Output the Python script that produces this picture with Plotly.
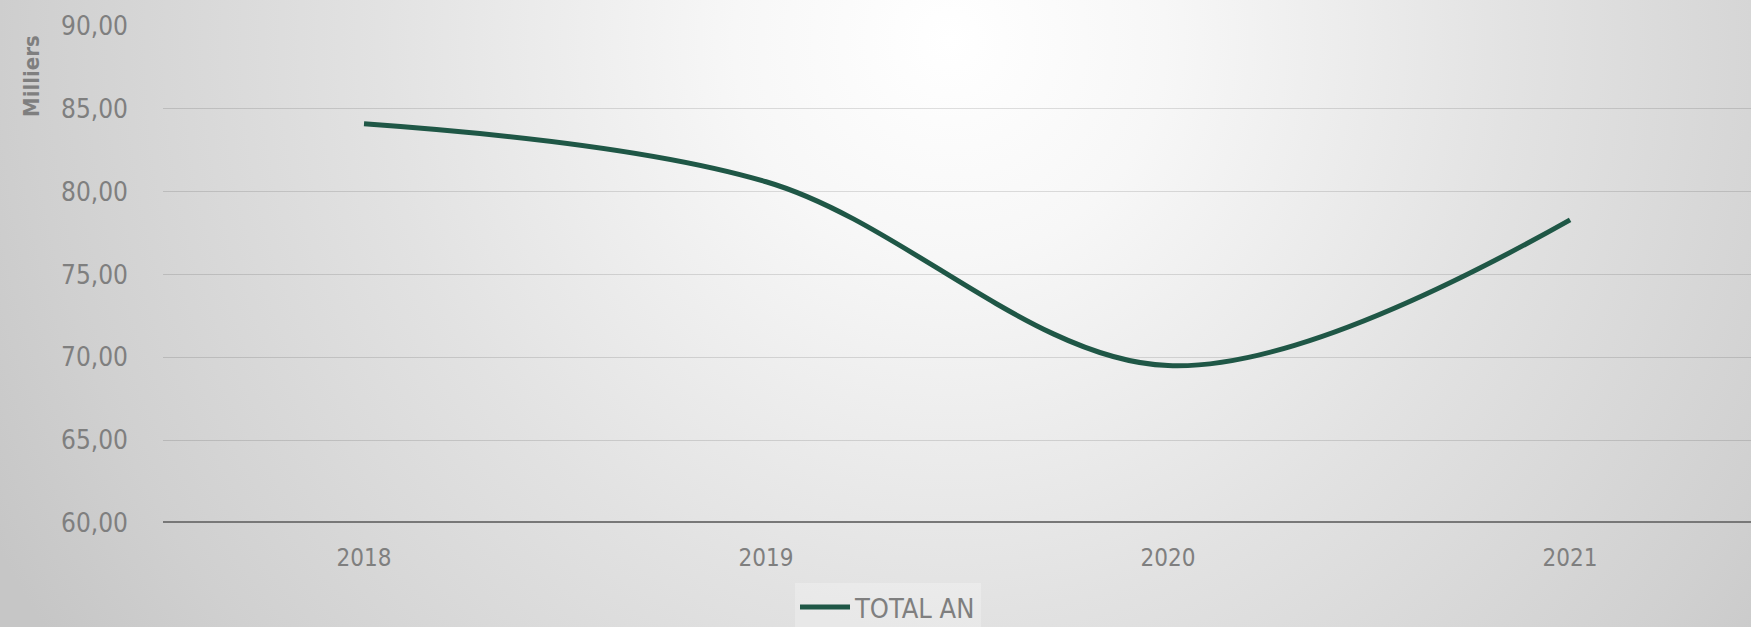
import plotly.graph_objects as go
from urllib.parse import quote

# données (en milliers)
annees = ['2018', '2019', '2020', '2021']
total_an = [84.1, 80.6, 69.5, 78.3]

y_ticks = [60, 65, 70, 75, 80, 85, 90]

W, H = 1751, 627
ML, MT, MB = 163, 26, 104
FONT = "DejaVu Sans Condensed"
GRIS = "#7f7f7f"

# fond en dégradé radial (blanc au centre haut, gris sur les bords)
svg_bg = (
    f'<svg xmlns="http://www.w3.org/2000/svg" width="{W}" height="{H}" '
    f'viewBox="0 0 {W} {H}" preserveAspectRatio="none">'
    '<defs><radialGradient id="g" gradientUnits="userSpaceOnUse" '
    'cx="950" cy="40" r="1080">'
    '<stop offset="0" stop-color="#ffffff"/>'
    '<stop offset="0.2" stop-color="#f7f7f7"/>'
    '<stop offset="0.53" stop-color="#e2e2e2"/>'
    '<stop offset="0.85" stop-color="#d0d0d0"/>'
    '<stop offset="1" stop-color="#c6c6c6"/>'
    '</radialGradient></defs>'
    f'<rect width="{W}" height="{H}" fill="url(#g)"/></svg>'
)
bg_src = "data:image/svg+xml;charset=utf-8," + quote(svg_bg)

plot_w = W - ML
plot_h = H - MT - MB

fig = go.Figure()

fig.add_trace(go.Scatter(
    x=annees,
    y=total_an,
    mode='lines',
    name='TOTAL AN',
    line=dict(color='#1f5746', width=5, shape='spline', smoothing=1.0),
))

fig.update_layout(
    width=W,
    height=H,
    margin=dict(l=ML, r=0, t=MT, b=MB, autoexpand=False),
    paper_bgcolor='#d8d8d8',
    plot_bgcolor='rgba(0,0,0,0)',
    separators=', ',
    font=dict(family=FONT, color=GRIS, size=24),
    showlegend=True,
    legend=dict(
        orientation='h',
        x=(888 - ML) / plot_w, xanchor='center',
        y=-(583 - (H - MB)) / plot_h, yanchor='top',
        bgcolor='rgba(255,255,255,0.25)',
        font=dict(size=27, color=GRIS),
        itemwidth=50,
    ),
    images=[dict(
        source=bg_src, xref='paper', yref='paper',
        x=-ML / plot_w, y=1 + MT / plot_h,
        sizex=W / plot_w, sizey=H / plot_h,
        xanchor='left', yanchor='top', sizing='stretch', layer='below',
    )],
    annotations=[dict(
        text='<b>Milliers</b>', xref='paper', yref='paper',
        x=-(ML - 31) / plot_w, y=1 - (76 - MT) / plot_h,
        xanchor='center', yanchor='middle', textangle=-90, showarrow=False,
        font=dict(size=22, color=GRIS, family=FONT),
    )],
)

fig.update_xaxes(
    type='category',
    range=[-0.5, 3.45],
    showgrid=False,
    showline=False,
    ticks='',
    automargin=False,
    ticklabelstandoff=18,
    tickfont=dict(size=24, color=GRIS),
)

fig.update_yaxes(
    range=[60, 90],
    tickvals=y_ticks,
    tickformat='.2f',
    showgrid=True,
    gridcolor='rgba(0,0,0,0.12)',
    gridwidth=1,
    zeroline=False,
    showline=False,
    ticks='',
    automargin=False,
    ticklabelstandoff=34,
    tickfont=dict(size=26, color=GRIS),
)

# ligne de base de l'axe (60,00) plus épaisse
fig.add_shape(type='line', xref='paper', yref='y', x0=0, x1=1, y0=60, y1=60,
              line=dict(color='#787878', width=4))

# pas de marge autour de la page, pas de barre d'outils
fig.write_html("out.html", config={'displayModeBar': False},
               post_script="document.body.style.margin='0';")
